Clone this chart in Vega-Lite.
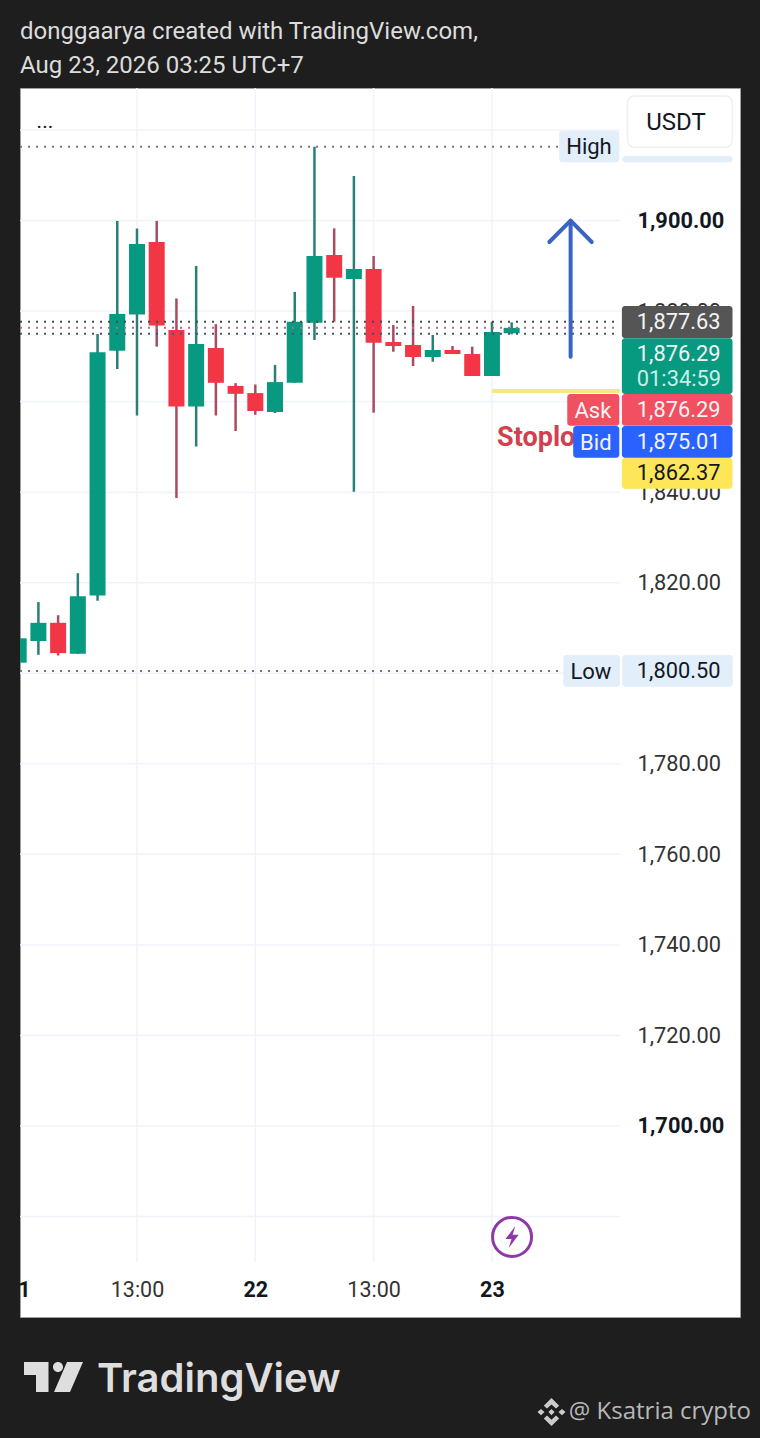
{
  "$schema": "https://vega.github.io/schema/vega-lite/v6.json",
  "description": "ETH/USDT candlestick screenshot from TradingView",
  "width": 720,
  "height": 1229,
  "autosize": {"type": "none"},
  "padding": {"left": 20, "top": 88, "right": 20, "bottom": 121},
  "background": "#1e1e1e",
  "title": {
    "text": ["donggaarya created with TradingView.com,", "Aug 23, 2026 03:25 UTC+7"],
    "anchor": "start",
    "frame": "group",
    "font": "Roboto",
    "fontSize": 24,
    "fontWeight": "normal",
    "color": "#dcdcdc",
    "lineHeight": 34,
    "offset": 9
  },
  "config": {
    "view": {"fill": "#ffffff", "stroke": "#a0a0a0"},
    "scale": {"continuousPadding": 0},
    "axis": {"grid": false, "domain": false, "ticks": false, "labelFont": "Roboto"}
  },
  "resolve": {"scale": {"color": "independent"}},
  "datasets": {
    "candles": [
      {"bar": 0, "open": 1802.33, "close": 1807.72, "high": 1807.72, "low": 1802.33, "dir": "up"},
      {"bar": 1, "open": 1807.12, "close": 1811.14, "high": 1815.72, "low": 1804.07, "dir": "up"},
      {"bar": 2, "open": 1811.14, "close": 1804.45, "high": 1812.82, "low": 1803.92, "dir": "down"},
      {"bar": 3, "open": 1804.3, "close": 1817.0, "high": 1822.1, "low": 1804.3, "dir": "up"},
      {"bar": 4, "open": 1817.15, "close": 1870.93, "high": 1874.95, "low": 1816.02, "dir": "up"},
      {"bar": 5, "open": 1871.24, "close": 1879.37, "high": 1899.91, "low": 1867.2, "dir": "up"},
      {"bar": 6, "open": 1879.22, "close": 1894.81, "high": 1898.23, "low": 1856.93, "dir": "up"},
      {"bar": 7, "open": 1895.27, "close": 1876.79, "high": 1899.91, "low": 1872.15, "dir": "down"},
      {"bar": 8, "open": 1875.79, "close": 1858.92, "high": 1882.79, "low": 1838.69, "dir": "down"},
      {"bar": 9, "open": 1858.92, "close": 1872.74, "high": 1889.95, "low": 1850.08, "dir": "up"},
      {"bar": 10, "open": 1871.84, "close": 1864.15, "high": 1877.1, "low": 1856.93, "dir": "down"},
      {"bar": 11, "open": 1863.47, "close": 1861.72, "high": 1864.09, "low": 1853.51, "dir": "down"},
      {"bar": 12, "open": 1861.88, "close": 1857.92, "high": 1863.78, "low": 1857.08, "dir": "down"},
      {"bar": 13, "open": 1857.7, "close": 1864.31, "high": 1868.11, "low": 1857.48, "dir": "up"},
      {"bar": 14, "open": 1864.15, "close": 1877.63, "high": 1884.23, "low": 1864.15, "dir": "up"},
      {"bar": 15, "open": 1877.43, "close": 1892.16, "high": 1916.3, "low": 1873.61, "dir": "up"},
      {"bar": 16, "open": 1892.38, "close": 1887.37, "high": 1898.28, "low": 1877.65, "dir": "down"},
      {"bar": 17, "open": 1887.08, "close": 1889.29, "high": 1909.83, "low": 1840.1, "dir": "up"},
      {"bar": 18, "open": 1889.29, "close": 1873.01, "high": 1892.16, "low": 1857.55, "dir": "down"},
      {"bar": 19, "open": 1873.16, "close": 1872.28, "high": 1876.92, "low": 1871.02, "dir": "down"},
      {"bar": 20, "open": 1872.5, "close": 1869.85, "high": 1881.12, "low": 1867.86, "dir": "down"},
      {"bar": 21, "open": 1869.85, "close": 1871.4, "high": 1874.71, "low": 1868.81, "dir": "up"},
      {"bar": 22, "open": 1871.4, "close": 1870.51, "high": 1872.28, "low": 1870.51, "dir": "down"},
      {"bar": 23, "open": 1870.51, "close": 1865.65, "high": 1872.13, "low": 1865.65, "dir": "down"},
      {"bar": 24, "open": 1865.65, "close": 1875.37, "high": 1877.65, "low": 1865.65, "dir": "up"},
      {"bar": 25, "open": 1875.09, "close": 1876.29, "high": 1877.52, "low": 1874.86, "dir": "up"}
    ],
    "levels": [
      {"name": "High", "price": 1916.3, "bar": 0.067, "bar2": 27.35},
      {"name": "Low", "price": 1800.5, "bar": 0.067, "bar2": 27.45},
      {"name": "Last", "price": 1877.63, "bar": 0.067, "bar2": 30.49},
      {"name": "Ask", "price": 1876.29, "bar": 0.067, "bar2": 30.49},
      {"name": "Bid", "price": 1875.01, "bar": 0.067, "bar2": 30.49}
    ],
    "boxes": [
      {"name": "high", "bar": 27.41, "bar2": 30.46, "price": 1919.83, "price2": 1912.85},
      {"name": "high", "bar": 30.61, "bar2": 36.21, "price": 1914.25, "price2": 1912.85},
      {"name": "last", "bar": 30.59, "bar2": 36.2, "price": 1881.12, "price2": 1873.98},
      {"name": "current", "bar": 30.59, "bar2": 36.2, "price": 1873.98, "price2": 1861.68},
      {"name": "ask", "bar": 27.82, "bar2": 30.46, "price": 1861.68, "price2": 1854.68},
      {"name": "ask", "bar": 30.59, "bar2": 36.2, "price": 1861.68, "price2": 1854.68},
      {"name": "bid", "bar": 28.12, "bar2": 30.46, "price": 1854.61, "price2": 1847.61},
      {"name": "bid", "bar": 30.59, "bar2": 36.2, "price": 1854.61, "price2": 1847.61},
      {"name": "stop", "bar": 30.59, "bar2": 36.2, "price": 1847.54, "price2": 1840.76},
      {"name": "low", "bar": 27.62, "bar2": 30.49, "price": 1804.03, "price2": 1797.03},
      {"name": "low", "bar": 30.61, "bar2": 36.21, "price": 1804.03, "price2": 1797.03}
    ],
    "price_labels": [
      {"label": "1,877.63", "price": 1877.6, "tag": "light"},
      {"label": "1,876.29", "price": 1870.45, "tag": "light"},
      {"label": "01:34:59", "price": 1864.95, "tag": "timer"},
      {"label": "1,876.29", "price": 1858.15, "tag": "light"},
      {"label": "1,875.01", "price": 1851.05, "tag": "light"},
      {"label": "1,862.37", "price": 1844.3, "tag": "dark"},
      {"label": "1,800.50", "price": 1800.5, "tag": "dark"}
    ],
    "tags": [
      {"label": "High", "bar": 28.92, "price": 1916.2, "tag": "dark"},
      {"label": "Low", "bar": 29.02, "price": 1800.3, "tag": "dark"},
      {"label": "Ask", "bar": 29.12, "price": 1857.9, "tag": "light"},
      {"label": "Bid", "bar": 29.27, "price": 1850.9, "tag": "light"}
    ],
    "arrow": [
      {"part": "shaft", "bar": 27.99, "price": 1869.92},
      {"part": "shaft", "bar": 27.99, "price": 1899.96},
      {"part": "head", "bar": 26.91, "price": 1895.25},
      {"part": "head", "bar": 27.99, "price": 1899.96},
      {"part": "head", "bar": 29.06, "price": 1895.25}
    ]
  },
  "layer": [
    {
      "data": {"values": [{"bar": 6}, {"bar": 12}, {"bar": 18}, {"bar": 24}]},
      "mark": {"type": "rule", "color": "#f0f3fa", "strokeWidth": 1.5},
      "encoding": {
        "x": {
          "field": "bar",
          "type": "quantitative",
          "scale": {"domain": [0.067, 36.58], "nice": false, "zero": false},
          "axis": {
            "title": null,
            "orient": "bottom",
            "offset": -40,
            "labelPadding": 2,
            "values": [0.27, 6, 12, 18, 24],
            "labelExpr": "datum.value < 1 ? '1' : datum.value == 6 || datum.value == 18 ? '13:00' : datum.value == 12 ? '22' : '23'",
            "labelFontSize": 21.5,
            "labelColor": {"condition": {"test": "datum.value == 6 || datum.value == 18", "value": "#333333"}, "value": "#131722"},
            "labelFontWeight": {"condition": {"test": "datum.value == 6 || datum.value == 18", "value": "normal"}, "value": "bold"},
            "labelOverlap": false,
            "labelFlush": false
          }
        },
        "y": {
          "datum": 1929.27,
          "type": "quantitative",
          "scale": {"domain": [1657.81, 1929.27], "nice": false, "zero": false},
          "axis": {
            "title": null,
            "orient": "right",
            "offset": -120,
            "labelPadding": 17,
            "labelAlign": "left",
            "values": [1700, 1720, 1740, 1760, 1780, 1820, 1840, 1880, 1900],
            "labelExpr": "format(datum.value, ',.2f')",
            "labelFontSize": 21.8,
            "labelColor": {"condition": {"test": "datum.value == 1900 || datum.value == 1700", "value": "#131722"}, "value": "#333333"},
            "labelFontWeight": {"condition": {"test": "datum.value == 1900 || datum.value == 1700", "value": "bold"}, "value": "normal"},
            "labelOverlap": false,
            "labelFlush": false
          }
        },
        "y2": {"datum": 1669.96}
      }
    },
    {
      "data": {"values": [
        {"price": 1680}, {"price": 1700}, {"price": 1720}, {"price": 1740}, {"price": 1760}, {"price": 1780}, {"price": 1800},
        {"price": 1820}, {"price": 1840}, {"price": 1860}, {"price": 1880}, {"price": 1900}, {"price": 1920}
      ]},
      "mark": {"type": "rule", "color": "#f0f3fa", "strokeWidth": 1.5},
      "encoding": {
        "x": {"datum": 0.067, "type": "quantitative"},
        "x2": {"datum": 30.49},
        "y": {"field": "price", "type": "quantitative"}
      }
    },
    {
      "data": {"name": "candles"},
      "mark": {"type": "rule", "strokeWidth": 2.5, "clip": true},
      "encoding": {
        "x": {"field": "bar", "type": "quantitative"},
        "y": {"field": "high", "type": "quantitative"},
        "y2": {"field": "low"},
        "color": {"condition": {"test": "datum.dir == 'up'", "value": "#2a7f78"}, "value": "#ab4a60"}
      }
    },
    {
      "data": {"name": "candles"},
      "mark": {"type": "bar", "size": 16, "clip": true},
      "encoding": {
        "x": {"field": "bar", "type": "quantitative"},
        "y": {"field": "open", "type": "quantitative"},
        "y2": {"field": "close"},
        "color": {"condition": {"test": "datum.dir == 'up'", "value": "#089981"}, "value": "#f23645"}
      }
    },
    {
      "data": {"name": "levels"},
      "mark": {"type": "rule", "strokeWidth": 2, "strokeDash": [2, 6]},
      "encoding": {
        "x": {"field": "bar", "type": "quantitative"},
        "x2": {"field": "bar2"},
        "y": {"field": "price", "type": "quantitative"},
        "color": {
          "field": "name",
          "type": "nominal",
          "legend": null,
          "scale": {"domain": ["High", "Low", "Last", "Ask", "Bid"], "range": ["#777777", "#777777", "#4a4a4a", "#b56a78", "#3a5a78"]}
        }
      }
    },
    {
      "data": {"values": [{"name": "Stoploss level", "price": 1862.37}]},
      "mark": {"type": "rule", "color": "#f8e97c", "strokeWidth": 4},
      "encoding": {
        "x": {"datum": 24.0, "type": "quantitative"},
        "x2": {"datum": 30.49},
        "y": {"field": "price", "type": "quantitative"}
      }
    },
    {
      "data": {"name": "arrow"},
      "mark": {"type": "line", "color": "#3a64c4", "strokeWidth": 4, "strokeCap": "round", "strokeJoin": "round"},
      "encoding": {
        "x": {"field": "bar", "type": "quantitative"},
        "y": {"field": "price", "type": "quantitative"},
        "detail": {"field": "part"},
        "order": {"field": "none"}
      }
    },
    {
      "data": {"values": [{"label": "Stoploss", "bar": 24.26, "price": 1852.0}]},
      "mark": {"type": "text", "align": "left", "baseline": "middle", "font": "Roboto", "fontWeight": "bold", "fontSize": 27, "color": "#d23f4e"},
      "encoding": {
        "x": {"field": "bar", "type": "quantitative"},
        "y": {"field": "price", "type": "quantitative"},
        "text": {"field": "label"}
      }
    },
    {
      "data": {"name": "boxes"},
      "mark": {"type": "rect", "cornerRadius": 3},
      "encoding": {
        "x": {"field": "bar", "type": "quantitative"},
        "x2": {"field": "bar2"},
        "y": {"field": "price", "type": "quantitative"},
        "y2": {"field": "price2"},
        "color": {
          "field": "name",
          "type": "nominal",
          "legend": null,
          "scale": {
            "domain": ["high", "last", "current", "ask", "bid", "stop", "low"],
            "range": ["#e3eefb", "#555555", "#089981", "#f0505f", "#2962ff", "#fde657", "#e3eefb"]
          }
        }
      }
    },
    {
      "data": {"values": [{"bar": 30.88, "bar2": 36.19, "price": 1927.5, "price2": 1916.17}]},
      "mark": {"type": "rect", "fill": "#ffffff", "stroke": "#eeeff2", "strokeWidth": 1.5, "cornerRadius": 7},
      "encoding": {
        "x": {"field": "bar", "type": "quantitative"},
        "x2": {"field": "bar2"},
        "y": {"field": "price", "type": "quantitative"},
        "y2": {"field": "price2"}
      }
    },
    {
      "data": {"values": [{"label": "USDT", "bar": 33.33, "price": 1921.6}]},
      "mark": {"type": "text", "align": "center", "baseline": "middle", "font": "Roboto", "fontSize": 24, "color": "#131722"},
      "encoding": {
        "x": {"field": "bar", "type": "quantitative"},
        "y": {"field": "price", "type": "quantitative"},
        "text": {"field": "label"}
      }
    },
    {
      "data": {"name": "price_labels"},
      "mark": {"type": "text", "align": "left", "baseline": "middle", "font": "Roboto", "fontSize": 21.8},
      "encoding": {
        "x": {"datum": 31.35, "type": "quantitative"},
        "y": {"field": "price", "type": "quantitative"},
        "text": {"field": "label"},
        "color": {"field": "tag", "type": "nominal", "legend": null, "scale": {"domain": ["light", "timer", "dark"], "range": ["#f4f4f4", "#c8f0e6", "#131722"]}}
      }
    },
    {
      "data": {"name": "tags"},
      "mark": {"type": "text", "align": "center", "baseline": "middle", "font": "Roboto", "fontSize": 22},
      "encoding": {
        "x": {"field": "bar", "type": "quantitative"},
        "y": {"field": "price", "type": "quantitative"},
        "text": {"field": "label"},
        "color": {"field": "tag", "type": "nominal", "legend": null, "scale": {"domain": ["light", "dark"], "range": ["#f4f4f4", "#131722"]}}
      }
    },
    {
      "data": {"values": [{"label": "..."}]},
      "mark": {"type": "text", "align": "center", "baseline": "alphabetic", "font": "Roboto", "fontSize": 21, "color": "#131722"},
      "encoding": {
        "x": {"datum": 1.33, "type": "quantitative"},
        "y": {"datum": 1920.43, "type": "quantitative"},
        "text": {"field": "label"}
      }
    },
    {
      "data": {"values": [{"icon": "alert"}]},
      "mark": {"type": "point", "shape": "circle", "size": 1521, "filled": false, "stroke": "#8e3aa6", "strokeWidth": 3, "opacity": 1},
      "encoding": {
        "x": {"datum": 25.02, "type": "quantitative"},
        "y": {"datum": 1675.5, "type": "quantitative"}
      }
    },
    {
      "data": {"values": [{"icon": "bolt"}]},
      "mark": {"type": "point", "shape": "M0.3,-1L-0.6,0.2L-0.05,0.2L-0.3,1L0.6,-0.2L0.05,-0.2Z", "size": 484, "filled": true, "fill": "#8e3aa6", "strokeWidth": 0, "opacity": 1},
      "encoding": {
        "x": {"datum": 25.02, "type": "quantitative"},
        "y": {"datum": 1675.5, "type": "quantitative"}
      }
    },
    {
      "data": {"values": [{"icon": "logo"}]},
      "mark": {
        "type": "point",
        "shape": "M-0.983,-0.5L-0.167,-0.5L-0.167,0.5L-0.583,0.5L-0.583,-0.067L-0.983,-0.067ZM-0.017,-0.333A0.167,0.167 0 1 0 0.317,-0.333A0.167,0.167 0 1 0 -0.017,-0.333ZM0.45,-0.5L0.983,-0.5L0.55,0.5L0.017,0.5Z",
        "size": 3600,
        "filled": true,
        "fill": "#dedede",
        "strokeWidth": 0,
        "opacity": 1
      },
      "encoding": {
        "x": {"datum": 1.766, "type": "quantitative"},
        "y": {"datum": 1644.56, "type": "quantitative"}
      }
    },
    {
      "data": {"values": [{"label": "TradingView"}]},
      "mark": {"type": "text", "align": "left", "baseline": "alphabetic", "font": "Inter", "fontWeight": 600, "fontSize": 40, "color": "#dedede"},
      "encoding": {
        "x": {"datum": 3.97, "type": "quantitative"},
        "y": {"datum": 1641.25, "type": "quantitative"},
        "text": {"field": "label"}
      }
    },
    {
      "data": {"values": [{"icon": "binance"}]},
      "mark": {
        "type": "point",
        "shape": "M0,-0.22L0.22,0L0,0.22L-0.22,0ZM-1,0L-0.75,-0.22L-0.5,0L-0.75,0.22ZM1,0L0.75,-0.22L0.5,0L0.75,0.22ZM0,-1L0.55,-0.45L0.32,-0.25L0,-0.55L-0.32,-0.25L-0.55,-0.45ZM0,1L0.55,0.45L0.32,0.25L0,0.55L-0.32,0.25L-0.55,0.45Z",
        "size": 784,
        "filled": true,
        "fill": "#cccccc",
        "strokeWidth": 0,
        "opacity": 1
      },
      "encoding": {
        "x": {"datum": 27.02, "type": "quantitative"},
        "y": {"datum": 1636.8, "type": "quantitative"}
      }
    },
    {
      "data": {"values": [{"label": "@ Ksatria crypto"}]},
      "mark": {"type": "text", "align": "right", "baseline": "middle", "font": "Open Sans", "fontSize": 24, "color": "#b8b8b8"},
      "encoding": {
        "x": {"datum": 37.14, "type": "quantitative"},
        "y": {"datum": 1636.8, "type": "quantitative"},
        "text": {"field": "label"}
      }
    }
  ]
}
